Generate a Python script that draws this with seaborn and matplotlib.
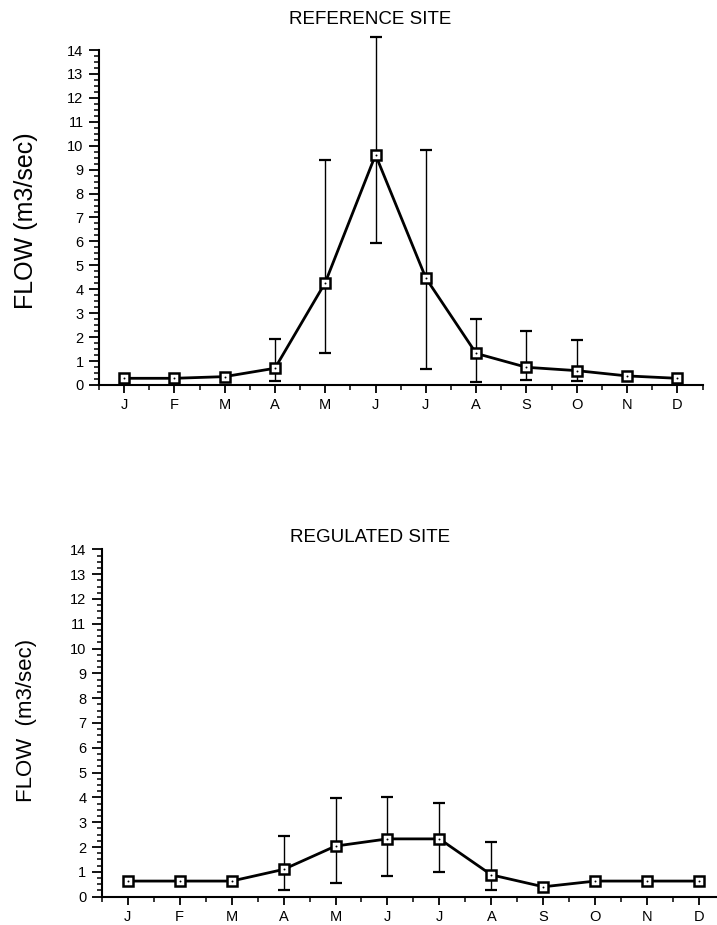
import numpy as np
import pandas as pd
import matplotlib
matplotlib.use("Agg")
import matplotlib.pyplot as plt
from matplotlib.ticker import MultipleLocator
import seaborn as sns

# ---- data ----
months = ['J', 'F', 'M', 'A', 'M', 'J', 'J', 'A', 'S', 'O', 'N', 'D']
ref_mean = [0.28, 0.28, 0.35, 0.70, 4.28, 9.62, 4.47, 1.32, 0.74, 0.60, 0.38, 0.28]
ref_low = [np.nan, np.nan, np.nan, 0.17, 1.35, 5.95, 0.67, 0.14, 0.21, 0.17, np.nan, np.nan]
ref_high = [np.nan, np.nan, np.nan, 1.91, 9.40, 14.55, 9.82, 2.76, 2.27, 1.88, np.nan, np.nan]
reg_mean = [0.63, 0.63, 0.63, 1.10, 2.04, 2.33, 2.33, 0.88, 0.40, 0.63, 0.63, 0.63]
reg_low = [np.nan, np.nan, np.nan, 0.27, 0.54, 0.83, 1.01, 0.27, np.nan, np.nan, np.nan, np.nan]
reg_high = [np.nan, np.nan, np.nan, 2.46, 3.97, 4.03, 3.77, 2.22, np.nan, np.nan, np.nan, np.nan]
titles = ['REFERENCE SITE', 'REGULATED SITE']
ylabels = ['FLOW (m3/sec)', 'FLOW  (m3/sec)']

sns.set_style("ticks")
plt.rcParams['font.family'] = ['Liberation Sans', 'DejaVu Sans']

W, H = 717, 925
fig = plt.figure(figsize=(W / 100, H / 100), dpi=100)

def px_axes(x0, x1, y0, y1):
    # x0,x1 left/right px; y0 = pixel of y=0, y1 = pixel of y=14
    return fig.add_axes([x0 / W, 1 - y0 / H, (x1 - x0) / W, (y0 - y1) / H])

ax_top = px_axes(98.9, 702.5, 385, 50)
ax_bot = px_axes(101.7, 725.2, 896.7, 549.3)

panels = [
    (ax_top, ref_mean, ref_low, ref_high),
    (ax_bot, reg_mean, reg_low, reg_high),
]

for i, (ax, mean, low, high) in enumerate(panels):
    x = np.arange(len(months))
    mean = np.array(mean)
    low = np.array(low)
    high = np.array(high)
    df = pd.DataFrame({'x': x, 'flow': mean})

    m = ~np.isnan(low)
    ax.errorbar(x[m], mean[m], yerr=[mean[m] - low[m], high[m] - mean[m]],
                fmt='none', ecolor='black', elinewidth=1.0, capsize=4,
                capthick=1.6, clip_on=False, zorder=2)

    sns.lineplot(data=df, x='x', y='flow', ax=ax, color='black', linewidth=2.0,
                 marker='s', markersize=6.5, markerfacecolor='white',
                 markeredgecolor='black', markeredgewidth=1.8, zorder=3,
                 clip_on=False)
    sns.scatterplot(data=df, x='x', y='flow', ax=ax, color='black', s=2,
                    linewidth=0, zorder=4, clip_on=False, legend=False)

    ax.set_xlim(-0.5, 11.5)
    ax.set_ylim(0, 14)
    ax.set_xticks(x)
    ax.set_xticklabels(months)
    ax.xaxis.set_minor_locator(MultipleLocator(0.5))
    ax.yaxis.set_major_locator(MultipleLocator(1))
    ax.yaxis.set_minor_locator(MultipleLocator(0.25))
    ax.set_xlabel('')
    ax.set_ylabel('')
    sns.despine(ax=ax)
    for sp in ('left', 'bottom'):
        ax.spines[sp].set_linewidth(1.5)
        ax.spines[sp].set_color('black')
    ax.tick_params(axis='both', which='major', direction='out', color='black',
                   width=1.3)
    ax.tick_params(axis='x', which='major', length=6, pad=3.5, labelsize=10.5)
    ax.tick_params(axis='y', which='major', length=7, pad=4, labelsize=10.5)
    ax.tick_params(axis='both', which='minor', direction='out', length=3.5,
                   width=1.1, color='black')
    for lab in ax.get_xticklabels() + ax.get_yticklabels():
        lab.set_color('black')

fig.text(370 / W, 1 - 19 / H, titles[0], ha='center', va='center', fontsize=13.5,
         color='black')
fig.text(370 / W, 1 - 538 / H, titles[1], ha='center', va='center', fontsize=13.5,
         color='black')
fig.text(26 / W, 1 - 221 / H, ylabels[0], rotation=90, ha='center', va='center',
         fontsize=18, color='black')
fig.text(27 / W, 1 - 720 / H, ylabels[1], rotation=90, ha='center', va='center',
         fontsize=16, color='black')

fig.savefig('out.png', dpi=100, facecolor='white')
